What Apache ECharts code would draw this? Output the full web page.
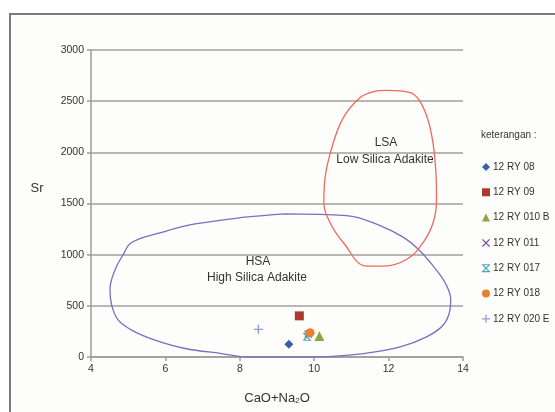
<!DOCTYPE html>
<html><head><meta charset="utf-8">
<script src="https://cdn.jsdelivr.net/npm/echarts@6/dist/echarts.min.js"></script>
<style>html,body{margin:0;padding:0;background:#fff}#c{width:555px;height:412px}</style>
</head><body><div id="c"></div>
<script>
const xTicks = [4, 6, 8, 10, 12, 14];
const yTicks = [0, 500, 1000, 1500, 2000, 2500, 3000];
const sampleNames = ['12 RY 08', '12 RY 09', '12 RY 010 B', '12 RY 011', '12 RY 017', '12 RY 018', '12 RY 020 E'];
const sampleX = [9.32, 9.60, 10.14, 9.84, 9.81, 9.89, 8.50];
const sampleY = [125, 402, 204, 224, 197, 237, 270];
const sampleColors = ['#3b5ea6', '#ad3a32', '#8aa63e', '#7b4a9e', '#4aa6b6', '#e8812f', '#8f9fd0'];

// HSA field outline (CaO+Na2O, Sr)
const hsaX = [9.22, 8.14, 6.80, 5.90, 5.09, 4.87, 4.65, 4.51, 4.56, 4.73, 5.09, 5.72, 6.53, 7.51, 8.22, 9.22, 9.98, 11.32, 12.31, 13.02, 13.47, 13.65, 13.67, 13.52, 13.20, 12.80, 12.40, 11.77, 10.87, 9.22];
const hsaY = [1399, 1366, 1300, 1218, 1119, 1003, 856, 658, 500, 362, 263, 165, 83, 34, 0, 0, 0, 34, 99, 197, 313, 461, 560, 725, 888, 1053, 1169, 1283, 1382, 1399];
// LSA field outline
const lsaX = [11.95, 12.58, 12.84, 13.07, 13.20, 13.27, 13.29, 13.20, 12.93, 12.49, 11.86, 11.41, 10.78, 10.42, 10.26, 10.29, 10.47, 10.78, 11.23, 11.59, 11.95];
const lsaY = [2606, 2583, 2501, 2304, 2073, 1810, 1547, 1317, 1119, 955, 888, 888, 1119, 1317, 1514, 1744, 2040, 2337, 2534, 2593, 2606];

const symbols = [
  'diamond',
  'rect',
  'triangle',
  'path://M0,1L1,0L5,4L9,0L10,1L6,5L10,9L9,10L5,6L1,10L0,9L4,5Z',
  'path://M0,0H10V1.4H0Z M0,8.6H10V10H0Z M0,1L1,0L5,4L9,0L10,1L6,5L10,9L9,10L5,6L1,10L0,9L4,5Z',
  'circle',
  'path://M4.2,0H5.8V4.2H10V5.8H5.8V10H4.2V5.8H0V4.2H4.2Z'
];
const sizes = [9, 9, 10, 8, 8, 9, 9];

const zip = (a, b) => a.map((v, i) => [v, b[i]]);
const font = "'Liberation Sans',Arial,sans-serif";

const series = [
  {type: 'line', name: 'HSA', data: zip(hsaX, hsaY), smooth: 0.4, symbol: 'none', silent: true,
   lineStyle: {color: '#7a6fbf', width: 1.3}, z: 2},
  {type: 'line', name: 'LSA', data: zip(lsaX, lsaY), smooth: 0.4, symbol: 'none', silent: true,
   lineStyle: {color: '#ee6a5c', width: 1.3}, z: 2}
];
sampleNames.forEach((n, i) => {
  series.push({type: 'scatter', name: n, data: [[sampleX[i], sampleY[i]]], symbol: symbols[i], symbolSize: sizes[i],
    itemStyle: {color: sampleColors[i], opacity: 1}, z: 5});
});

const chart = echarts.init(document.getElementById('c'), null, {renderer: 'canvas'});
chart.setOption({
  backgroundColor: '#ffffff',
  animation: false,
  grid: {left: 91, right: 92, top: 50, bottom: 55, containLabel: false},
  xAxis: {type: 'value', min: xTicks[0], max: xTicks[xTicks.length - 1], interval: 2,
    axisLine: {show: true, onZero: false, lineStyle: {color: '#9e9a98', width: 1.5}},
    axisTick: {show: true, length: 4, lineStyle: {color: '#9e9a98', width: 1.5}},
    axisLabel: {color: '#333', fontSize: 10.5, fontFamily: font, margin: 7},
    splitLine: {show: false},
    name: 'CaO+Na{s|2}O', nameLocation: 'middle', nameGap: 34,
    nameTextStyle: {color: '#333', fontSize: 13, fontFamily: font,
      rich: {s: {fontSize: 8, verticalAlign: 'bottom', padding: [6, 0, 0, 0], color: '#333'}}}
  },
  yAxis: {type: 'value', min: yTicks[0], max: yTicks[yTicks.length - 1], interval: 500,
    axisLine: {show: true, onZero: false, lineStyle: {color: '#9e9a98', width: 1.5}},
    axisTick: {show: true, length: 4, lineStyle: {color: '#9e9a98', width: 1.5}},
    axisLabel: {color: '#333', fontSize: 10.5, fontFamily: font, margin: 7, formatter: v => String(v)},
    splitLine: {show: true, lineStyle: {color: '#a29e9c', width: 1.6}}
  },
  legend: {
    orient: 'vertical', left: 477, top: 157, itemGap: 15.3, itemWidth: 8, itemHeight: 8,
    data: sampleNames.map((n, i) => ({name: n, icon: symbols[i]})),
    textStyle: {color: '#333', fontSize: 10, fontFamily: font, padding: [0, 0, 0, -2]},
    selectedMode: false
  },
  graphic: [
    {type: 'rect', left: 9, top: 13, shape: {width: 600, height: 450}, z: -10,
     style: {fill: '#fdfdfb', stroke: '#7a7a7a', lineWidth: 2}},
    {type: 'text', z: 10, x: 37, y: 188,
     style: {text: 'Sr', fill: '#333', align: 'center', verticalAlign: 'middle', font: "13px 'Liberation Sans',Arial"}},
    {type: 'text', left: 481, top: 130, z: 10,
     style: {text: 'keterangan :', fill: '#333', font: "10px 'Liberation Sans',Arial"}},
    {type: 'text', z: 10, x: 258, y: 262,
     style: {text: 'HSA', fill: '#333', align: 'center', verticalAlign: 'middle', font: "12px 'Liberation Sans',Arial"}},
    {type: 'text', z: 10, x: 257, y: 278,
     style: {text: 'High Silica Adakite', fill: '#333', align: 'center', verticalAlign: 'middle', font: "12px 'Liberation Sans',Arial"}},
    {type: 'text', z: 10, x: 386, y: 143,
     style: {text: 'LSA', fill: '#333', align: 'center', verticalAlign: 'middle', font: "12px 'Liberation Sans',Arial"}},
    {type: 'text', z: 10, x: 385, y: 160,
     style: {text: 'Low Silica Adakite', fill: '#333', align: 'center', verticalAlign: 'middle', font: "12px 'Liberation Sans',Arial"}}
  ],
  series: series
});
</script></body></html>
